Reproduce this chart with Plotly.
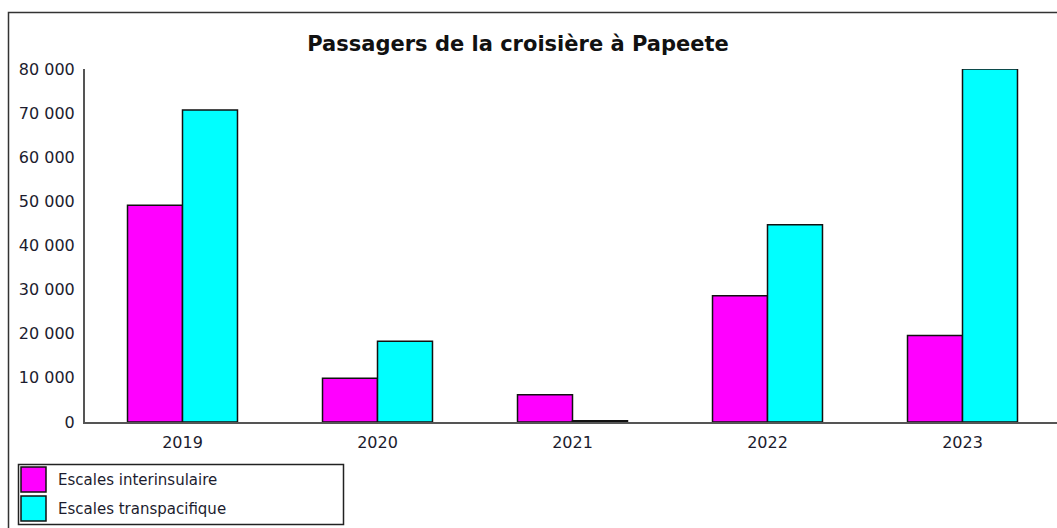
import plotly.graph_objects as go

# chart data
years = ['2019', '2020', '2021', '2022', '2023']
interinsulaire = [49100, 9900, 6200, 28600, 19600]
transpacifique = [70700, 18300, 300, 44700, 80000]
series_names = ['Escales interinsulaire', 'Escales transpacifique']
series_colors = ['#FF00FF', '#00FFFF']
y_ticks = [0, 10000, 20000, 30000, 40000, 50000, 60000, 70000, 80000]

W, H = 1057, 528
L, R, T, B = 85, 0, 69, 106
PW, PH = W - L - R, H - T - B

def px(x):
    return (x - L) / PW

def py(y):
    return (H - B - y) / PH

font = 'DejaVu Sans'
txt_col = '#1c1c2e'

fig = go.Figure()
for name, vals, col in zip(series_names, [interinsulaire, transpacifique], series_colors):
    fig.add_trace(go.Bar(
        x=years, y=vals, name=name,
        marker=dict(color=col, line=dict(color='#111111', width=1.5)),
        showlegend=False,
    ))

shapes = []
# outer frame
shapes.append(dict(type='rect', xref='paper', yref='paper',
                   x0=px(8.5), x1=px(1070), y0=py(540), y1=py(12.5),
                   line=dict(color='#333333', width=1.5), layer='below'))
# legend box
shapes.append(dict(type='rect', xref='paper', yref='paper',
                   x0=px(18.5), x1=px(343.5), y0=py(524.5), y1=py(464.5),
                   line=dict(color='#222222', width=1.5)))
annotations = []
for i, (name, col) in enumerate(zip(series_names, series_colors)):
    top = 467 + i * 29
    shapes.append(dict(type='rect', xref='paper', yref='paper',
                       x0=px(21), x1=px(46), y0=py(top + 25), y1=py(top),
                       fillcolor=col, line=dict(color='#111111', width=1.5)))
    annotations.append(dict(xref='paper', yref='paper', x=px(56), y=py(top + 12.5),
                            text=name, showarrow=False, xanchor='left', yanchor='middle',
                            font=dict(family=font, size=15, color=txt_col)))

fig.update_layout(
    width=W, height=H,
    margin=dict(l=L, r=R, t=T, b=B, autoexpand=False),
    paper_bgcolor='white', plot_bgcolor='white',
    barmode='group', bargap=0.436, bargroupgap=0,
    separators=', ',
    title=dict(text='<b>Passagers de la croisière à Papeete</b>', x=518 / W, y=1 - 44 / H,
               xanchor='center', yanchor='middle',
               font=dict(family=font, size=21, color='#111111')),
    xaxis=dict(range=[-0.5, -0.5 + PW / 195], showgrid=False, showline=True,
               linecolor='#555555', linewidth=2, ticks='', fixedrange=True,
               ticklabelstandoff=5,
               tickfont=dict(family=font, size=16, color=txt_col)),
    yaxis=dict(range=[0, 80000], tickvals=y_ticks, tickformat=',d', showgrid=False,
               showline=True, linecolor='#555555', linewidth=2, ticks='',
               zeroline=False, ticklabelstandoff=5, fixedrange=True,
               tickfont=dict(family=font, size=16, color=txt_col)),
    shapes=shapes, annotations=annotations,
)

fig.write_html('out.html', config={'displayModeBar': False},
               post_script="document.body.style.margin='0';")
